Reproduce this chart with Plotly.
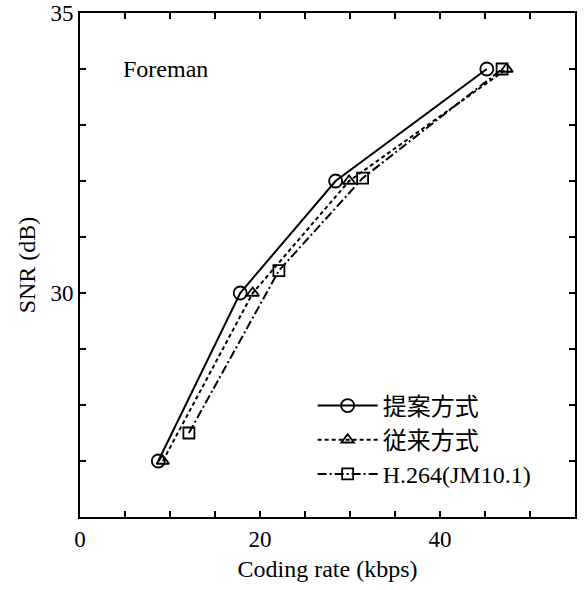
import plotly.graph_objects as go

# Data
proposed_rate = [8.7, 17.8, 28.4, 45.2]
proposed_snr = [27.0, 30.0, 32.0, 34.0]
conventional_rate = [9.2, 19.2, 29.9, 47.4]
conventional_snr = [27.0, 30.0, 32.0, 34.0]
h264_rate = [12.1, 22.1, 31.4, 46.9]
h264_snr = [27.5, 30.4, 32.05, 34.0]

series_names = ["提案方式", "従来方式", "H.264(JM10.1)"]
x_tickvals = [0, 5, 10, 15, 20, 25, 30, 35, 40, 45, 50, 55]
x_ticktext = ["0", "", "", "", "20", "", "", "", "40", "", "", ""]
y_tickvals = [26, 27, 28, 29, 30, 31, 32, 33, 34, 35]
y_ticktext = ["", "", "", "", "30", "", "", "", "", "35"]

FONT = "Liberation Serif, DejaVu Serif, Noto Sans CJK JP, serif"

fig = go.Figure()
fig.add_trace(go.Scatter(
    x=proposed_rate, y=proposed_snr, name=series_names[0], mode="lines+markers",
    line=dict(color="black", width=2, dash="solid"),
    marker=dict(symbol="circle-open", size=13, color="black", line=dict(width=1.8)),
))
fig.add_trace(go.Scatter(
    x=conventional_rate, y=conventional_snr, name=series_names[1], mode="lines+markers",
    line=dict(color="black", width=2, dash="4px,3px"),
    marker=dict(symbol="triangle-up-open", size=11, color="black", line=dict(width=1.8)),
))
fig.add_trace(go.Scatter(
    x=h264_rate, y=h264_snr, name=series_names[2], mode="lines+markers",
    line=dict(color="black", width=2, dash="9px,3px,2px,3px"),
    marker=dict(symbol="square-open", size=11, color="black", line=dict(width=1.8)),
))

fig.add_annotation(x=4.6, y=34.0, text="Foreman", showarrow=False, xanchor="left",
                   yanchor="middle", font=dict(family=FONT, size=24, color="black"))

axis_common = dict(
    showgrid=False, zeroline=False, showline=True, linecolor="black", linewidth=2,
    mirror="ticks", ticks="inside", ticklen=6, tickwidth=1.5, tickcolor="black",
    tickfont=dict(family=FONT, size=23, color="black"), automargin=False,
)

fig.update_layout(
    width=584, height=590,
    margin=dict(l=80, r=9, t=13, b=73),
    plot_bgcolor="white", paper_bgcolor="white",
    font=dict(family=FONT, size=24, color="black"),
    xaxis=dict(range=[0, 55], tickvals=x_tickvals, ticktext=x_ticktext,
               title=dict(text="Coding rate (kbps)", font=dict(family=FONT, size=24), standoff=10),
               **axis_common),
    yaxis=dict(range=[26, 35], tickvals=y_tickvals, ticktext=y_ticktext,
               title=dict(text="SNR (dB)", font=dict(family=FONT, size=24), standoff=8),
               **axis_common),
    legend=dict(x=0.47, y=0.265, xanchor="left", yanchor="top", bgcolor="rgba(0,0,0,0)",
                font=dict(family=FONT, size=24, color="black"), itemwidth=60,
                tracegroupgap=2),
)

# Remove the browser's default body margin so the figure sits at the page origin.
fig.write_html("out.html", config={"displayModeBar": False},
               post_script="document.body.style.margin='0';")
